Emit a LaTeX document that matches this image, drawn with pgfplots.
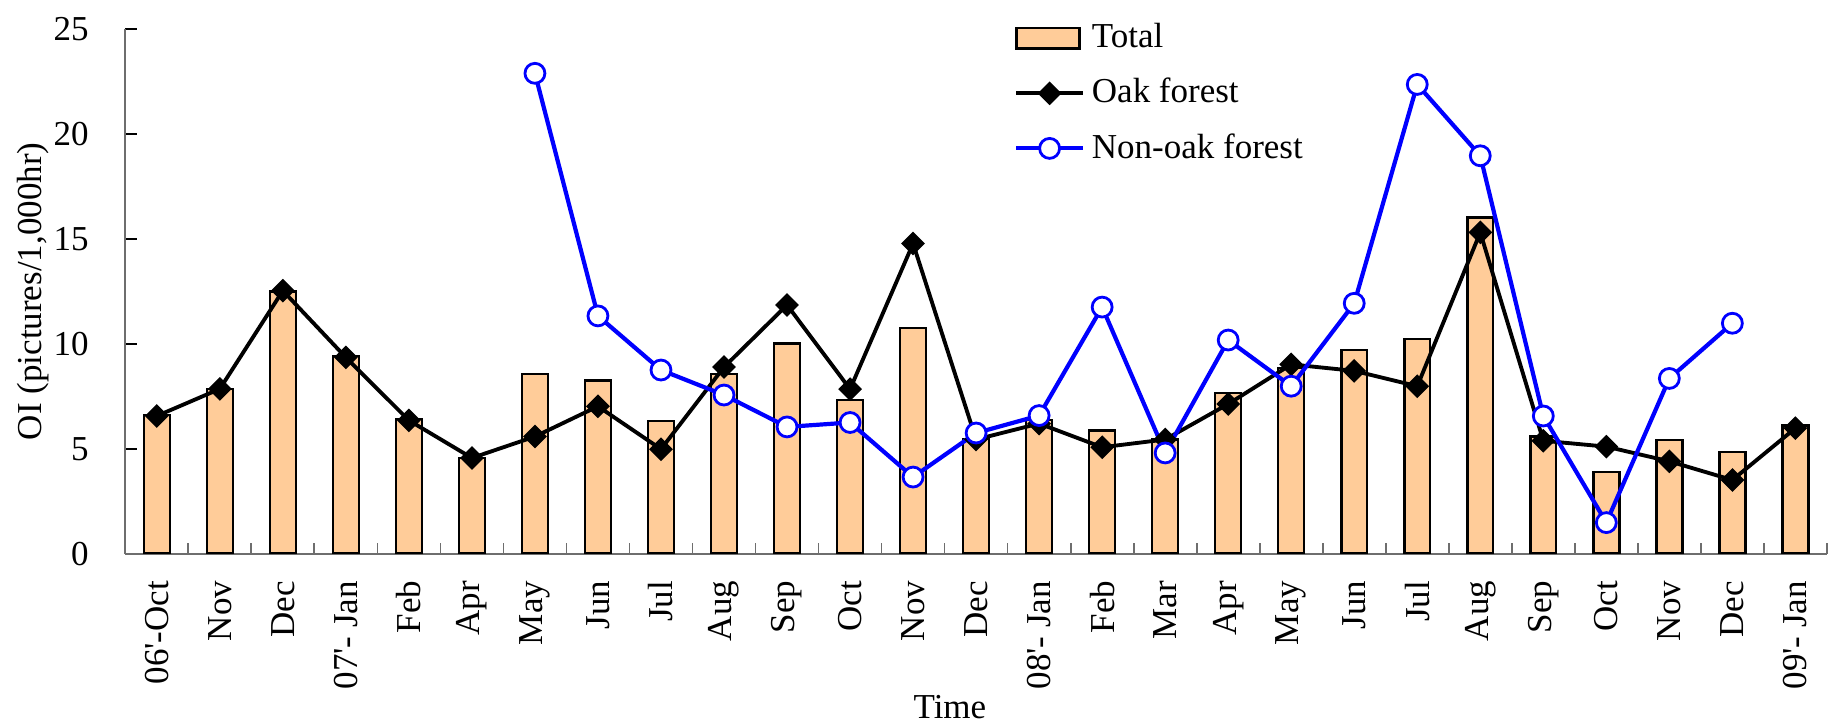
\documentclass[border=0pt]{standalone}
\usepackage{fontspec}
\setmainfont{Liberation Serif}
\usepackage{pgfplots}
\pgfplotsset{compat=1.18}
\definecolor{peach}{RGB}{255,204,153}
\definecolor{axgray}{RGB}{110,110,110}
\newcommand{\ap}{\textquotesingle}
\pgfplotsset{
  barlegend/.style={legend image code/.code={\draw[##1, line width=0.7pt] (0pt,-2.9pt) rectangle (18pt,2.9pt);}},
  linelegend/.style={legend image code/.code={\draw[mark repeat=2,mark phase=2,##1] plot coordinates {(0pt,0pt) (9.5pt,0pt) (19pt,0pt)};}},
}
\begin{document}
\fontsize{10}{12}\selectfont
\begin{tikzpicture}
\begin{axis}[
  scale only axis,
  width=486.2pt, height=149.9pt,
  xmin=-0.5, xmax=26.5, ymin=0, ymax=25,
  axis x line=bottom, axis y line=left,
  axis line style={-, axgray, line width=0.5pt},
  tick align=inside,
  /pgf/number format/assume math mode=true,
  ticklabel style={font=\fontsize{10}{12}\selectfont},
  xtick={0,...,26},
  xticklabels={06\ap-Oct,Nov,Dec,07\ap- Jan,Feb,Apr,May,Jun,Jul,Aug,Sep,Oct,Nov,Dec,08\ap- Jan,Feb,Mar,Apr,May,Jun,Jul,Aug,Sep,Oct,Nov,Dec,09\ap- Jan},
  major x tick style={draw=none},
  minor xtick={-0.5,0.5,...,26.5},
  minor x tick style={axgray, line width=0.5pt},
  minor tick length=3pt,
  xticklabel style={rotate=90, anchor=east, inner sep=0pt},
  xticklabel shift=7.6pt,
  ytick={0,5,10,15,20,25},
  major y tick style={black, line width=0.5pt},
  major tick length=3.4pt,
  yticklabel style={anchor=east, inner sep=0pt, xshift=-10.3pt},
  xlabel={Time},
  xlabel style={at={([yshift=-43.9pt]axis description cs:0.4846,0)}, anchor=center, font=\fontsize{10}{12}\selectfont},
  ylabel={OI (pictures/1,000hr)},
  ylabel style={at={([xshift=-26.4pt]axis description cs:0,0.5)}, anchor=center, font=\fontsize{10}{12}\selectfont},
  legend style={draw=none, fill=none, at={(axis description cs:0.522,1.025)}, anchor=north west, inner sep=0pt, row sep=3.2pt, font=\fontsize{10}{12}\selectfont},
  legend cell align=left,
]
\addplot[ybar, bar width=7.4pt, fill=peach, draw=black, line width=0.7pt, barlegend]
  coordinates {(0,6.62) (1,7.85) (2,12.49) (3,9.42) (4,6.42) (5,4.55) (6,8.56) (7,8.25) (8,6.31) (9,8.56) (10,10.02) (11,7.33) (12,10.75) (13,5.47) (14,6.38) (15,5.87) (16,5.44) (17,7.65) (18,8.85) (19,9.71) (20,10.24) (21,16.02) (22,5.58) (23,3.88) (24,5.42) (25,4.84) (26,6.11)};
\addlegendentry{Total}
\addplot[black, line width=1.1pt, mark=square*, mark size=2.2pt, mark options={rotate=45, fill=black, draw=black, line width=0.4pt}, linelegend]
  coordinates {(0,6.56) (1,7.85) (2,12.53) (3,9.35) (4,6.35) (5,4.56) (6,5.58) (7,7.02) (8,4.98) (9,8.89) (10,11.85) (11,7.84) (12,14.78) (13,5.44) (14,6.2) (15,5.07) (16,5.44) (17,7.13) (18,9.02) (19,8.71) (20,7.98) (21,15.31) (22,5.38) (23,5.1) (24,4.4) (25,3.51) (26,5.98)};
\addlegendentry{Oak forest}
\addplot[blue, line width=1.2pt, mark=*, mark size=2.85pt, mark options={fill=white, draw=blue, line width=0.8pt}, linelegend]
  coordinates {(6,22.89) (7,11.33) (8,8.75) (9,7.56) (10,6.04) (11,6.25) (12,3.65) (13,5.75) (14,6.58) (15,11.75) (16,4.8) (17,10.18) (18,7.98) (19,11.93) (20,22.36) (21,18.96) (22,6.56) (23,1.48) (24,8.35) (25,10.98)};
\addlegendentry{Non-oak forest}
\end{axis}
\pgfresetboundingbox
\path[use as bounding box] ([xshift=-35.8pt,yshift=-49.3pt]current axis.south west) rectangle ([xshift=2.6pt,yshift=8.3pt]current axis.north east);
\end{tikzpicture}
\end{document}
